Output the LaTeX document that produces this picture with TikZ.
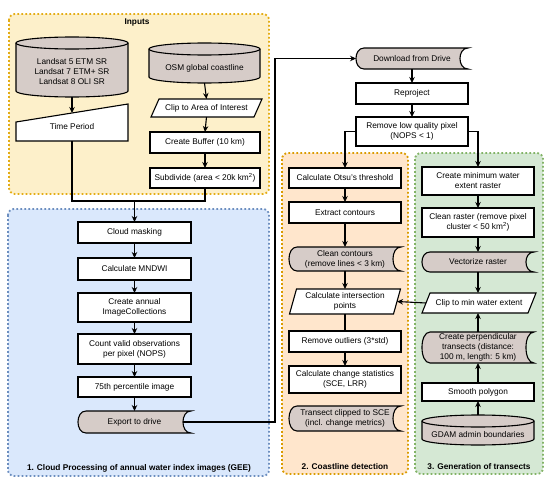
\documentclass[tikz,border=0pt]{standalone}
\usepackage{fontspec}
\setmainfont{Liberation Sans}
\usetikzlibrary{arrows.meta,calc}
\pgfdeclarelayer{sec}\pgfdeclarelayer{shp}\pgfsetlayers{sec,shp,main}
\definecolor{yfill}{RGB}{253,240,202}
\definecolor{ydot}{RGB}{228,172,20}
\definecolor{bfill}{RGB}{218,232,252}
\definecolor{bdot}{RGB}{108,142,191}
\definecolor{ofill}{RGB}{255,230,204}
\definecolor{odot}{RGB}{218,155,0}
\definecolor{gfillc}{RGB}{213,232,212}
\definecolor{gdot}{RGB}{130,179,102}
\definecolor{taupe}{RGB}{214,204,200}
\newcommand\fs{\fontsize{8.3}{10}\selectfont}
\newcommand\stdata[1]{%
\begin{pgfonlayer}{shp}
\draw[gshape] ([xshift=8pt]#1.north west) -- (#1.north east) .. controls ([xshift=-10.7pt]#1.north east) and ([xshift=-10.7pt]#1.south east) .. (#1.south east) -- ([xshift=8pt]#1.south west) .. controls ([xshift=-2.7pt]#1.south west) and ([xshift=-2.7pt]#1.north west) .. ([xshift=8pt]#1.north west) -- cycle;
\end{pgfonlayer}}
\newcommand\para[2]{%
\begin{pgfonlayer}{shp}
\draw[wshape] ([xshift=#2]#1.north west) -- ([xshift=#2]#1.north east) -- ([xshift=-#2]#1.south east) -- ([xshift=-#2]#1.south west) -- cycle;
\end{pgfonlayer}}
\newcommand\cyl[4]{%
\begin{pgfonlayer}{shp}
\draw[gshape] ([yshift=#3]#1.north west) -- ([yshift=#4]#1.south west) arc[start angle=180,end angle=360,x radius=#2,y radius=6pt] -- ([yshift=#3]#1.north east) arc[start angle=0,end angle=180,x radius=#2,y radius=6pt] -- cycle;
\draw[line width=1.1pt] ([yshift=#3]#1.north west) arc[start angle=180,end angle=360,x radius=#2,y radius=6pt];
\end{pgfonlayer}}
\tikzset{
  box/.style={draw, fill=white, line width=1.1pt, minimum width=112pt, inner sep=0pt, outer sep=0pt, align=center, font=\fs},
  txt/.style={draw=none, minimum width=112pt, inner sep=0pt, outer sep=0pt, align=center, font=\fs},
  gshape/.style={draw, fill=taupe, line width=1.1pt},
  wshape/.style={draw, fill=white, line width=1.1pt},
  secbox/.style={line width=1.8pt, dash pattern=on 1.8pt off 2.2pt, rounded corners=6pt},
  ttl/.style={font=\fs\bfseries, inner sep=0pt},
  arr/.style={-{Stealth[length=6pt,width=5.5pt]}, line width=1.1pt},
  ln/.style={line width=1.1pt}
}
\begin{document}
\begin{tikzpicture}[x=1pt,y=-1pt]
\useasboundingbox (0,0) rectangle (550,482);
% sections
\begin{pgfonlayer}{sec}
\draw[secbox, draw=ydot, fill=yfill] (9,14) rectangle (269,194);
\draw[secbox, draw=bdot, fill=bfill] (8,209) rectangle (269,476);
\draw[secbox, draw=odot, fill=ofill] (282,153) rectangle (408,474);
\draw[secbox, draw=gdot, fill=gfillc] (415,153) rectangle (543,474);
\end{pgfonlayer}
\node[ttl] (tin) at (137,23) {Inputs};
\node[ttl] (t1) at (139,468) {1. Cloud Processing of annual water index images (GEE)};
\node[ttl] (t2) at (345,467) {2. Coastline detection};
\node[ttl] (t3) at (479,467) {3. Generation of transects};
% inputs
\node[txt, minimum height=50pt] (land) at (72,72) {Landsat 5 ETM SR\\Landsat 7 ETM+ SR\\Landsat 8 OLI SR};
\cyl{land}{56pt}{4pt}{6pt}
\node[txt, minimum height=28pt] (tp) at (72,127) {Time Period};
\begin{pgfonlayer}{shp}
\draw[wshape] (tp.south west) -- (tp.south east) -- ([yshift=9pt]tp.north east) -- ([yshift=-9pt]tp.north west) -- cycle;
\end{pgfonlayer}
\node[txt, minimum width=111pt, minimum height=30pt] (osm) at (204.5,68) {OSM global coastline};
\cyl{osm}{55.5pt}{4pt}{6pt}
\node[txt, minimum width=103pt, minimum height=18pt] (clip) at (206.5,108) {Clip to Area of Interest};
\para{clip}{4pt}
\node[box, minimum width=110pt, minimum height=21pt] (buf) at (205,142.5) {Create Buffer (10 km)};
\node[box, minimum width=110pt, minimum height=20pt] (sub) at (205,178) {Subdivide (area < 20k km\textsuperscript{2})};
% cloud processing
\node[box, minimum width=113pt, minimum height=21pt] (cloud) at (134.5,232.5) {Cloud masking};
\node[box, minimum width=113pt, minimum height=22pt] (mnd) at (134.5,269) {Calculate MNDWI};
\node[box, minimum width=113pt, minimum height=29pt] (ann) at (134.5,307.5) {Create annual\\ImageCollections};
\node[box, minimum width=113pt, minimum height=30pt] (cnt) at (134.5,349) {Count valid observations\\per pixel (NOPS)};
\node[box, minimum width=113pt, minimum height=20pt] (p75) at (134.5,387) {75th percentile image};
\node[txt, minimum width=113pt, minimum height=22pt] (exp) at (134.5,422) {Export to drive};
\stdata{exp}
% download chain
\node[txt, minimum height=21pt] (dl) at (412,58.5) {Download from Drive};
\stdata{dl}
\node[box, minimum height=21pt] (rep) at (412,93.5) {Reproject};
\node[box, minimum height=29pt] (rl) at (412,131.5) {Remove low quality pixel\\(NOPS < 1)};
% coastline detection
\node[box, minimum height=20pt] (otsu) at (345,178) {Calculate Otsu's threshold};
\node[box, minimum height=21pt] (ext) at (345,212.5) {Extract contours};
\node[txt, minimum height=24pt] (cc) at (345,259) {Clean contours\\(remove lines < 3 km)};
\stdata{cc}
\node[txt, minimum width=104pt, minimum height=25pt] (ip) at (345,301.5) {Calculate intersection\\points};
\para{ip}{3.5pt}
\node[box, minimum height=21pt] (out) at (345,341.5) {Remove outliers (3*std)};
\node[box, minimum height=27pt] (chg) at (345,379.5) {Calculate change statistics\\(SCE, LRR)};
\node[txt, minimum height=25pt] (tc) at (345,418.5) {Transect clipped to SCE\\(incl. change metrics)};
\stdata{tc}
% transects
\node[box, minimum height=28pt] (cmin) at (478,181) {Create minimum water\\extent raster};
\node[box, minimum height=29pt] (cr) at (478,222.5) {Clean raster (remove pixel\\cluster < 50 km\textsuperscript{2})};
\node[txt, minimum height=20pt] (vec) at (478,262) {Vectorize raster};
\stdata{vec}
\node[txt, minimum width=106pt, minimum height=20pt] (cw) at (479,303) {Clip to min water extent};
\para{cw}{4pt}
\node[txt, minimum height=31pt] (cp) at (478,347.5) {Create perpendicular\\transects (distance:\\100 m, length: 5 km)};
\stdata{cp}
\node[box, minimum height=18pt] (sm) at (478,392) {Smooth polygon};
\node[txt, minimum height=20pt] (gd) at (478,435) {GDAM admin boundaries};
\cyl{gd}{56pt}{4pt}{6pt}
% connectors
\draw[arr] (land.south) -- (tp.north);
\draw[arr] (osm.south) -- (clip.north);
\draw[arr] (clip.south) -- (buf.north);
\draw[arr] (buf.south) -- (sub.north);
\coordinate (j) at (134.5,201);
\draw[ln] (tp.south) |- (j);
\draw[ln] (sub.south) |- (j);
\draw[arr] (j) -- (cloud.north);
\draw[arr] (cloud.south) -- (mnd.north);
\draw[arr] (mnd.south) -- (ann.north);
\draw[arr] (ann.south) -- (cnt.north);
\draw[arr] (cnt.south) -- (p75.north);
\draw[arr] (p75.south) -- (exp.north);
\draw[arr] ([xshift=-8pt]exp.east) -| ([xshift=-81pt]dl.west) |- (dl.west);
\draw[arr] (dl.south) -- (rep.north);
\draw[arr] (rep.south) -- (rl.north);
\draw[arr] (rl.west) -| (otsu.north);
\draw[arr] (rl.east) -| (cmin.north);
\draw[arr] (otsu.south) -- (ext.north);
\draw[arr] (ext.south) -- (cc.north);
\draw[arr] (cc.south) -- (ip.north);
\draw[ln] (ip.south) -- (out.north);
\draw[arr] (out.south) -- (chg.north);
\draw[arr] (cmin.south) -- (cr.north);
\draw[arr] (cr.south) -- (vec.north);
\draw[arr] (vec.south) -- (vec.south |- cw.north);
\draw[arr] (cw.west) -- (ip.east);
\draw[arr] (cp.north) -- (cp.north |- cw.south);
\draw[arr] (sm.north) -- (cp.south);
\draw[arr] ([yshift=10pt]gd.north) -- (sm.south);
\end{tikzpicture}
\end{document}
